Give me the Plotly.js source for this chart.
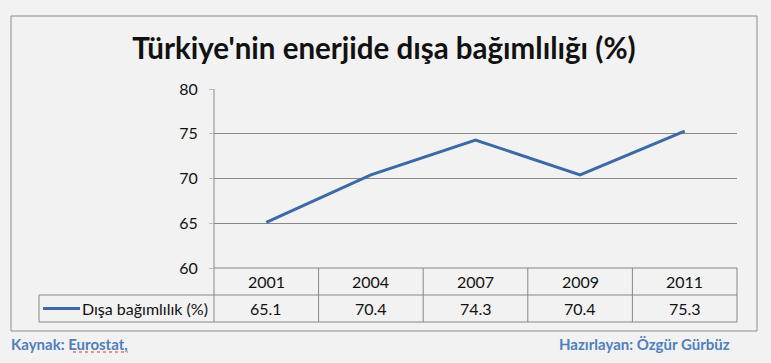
<!DOCTYPE html>
<html>
<head>
<meta charset="utf-8">
<script src="https://cdn.plot.ly/plotly-3.0.1.min.js"></script>
<style>
html,body{margin:0;padding:0;background:#f2f2f2;}
#chart{width:771px;height:363px;}
</style>
</head>
<body>
<div id="chart"></div>
<script>
// ---- data ----
const years = ['2001', '2004', '2007', '2009', '2011'];
const values = [65.1, 70.4, 74.3, 70.4, 75.3];
const seriesName = 'Dışa bağımlılık (%)';
const yTicks = [60, 65, 70, 75, 80];
const titleText = "Türkiye'nin enerjide dışa bağımlılığı (%)";
const sourceText = 'Kaynak: Eurostat,';
const authorText = 'Hazırlayan: Özgür Gürbüz';

// ---- layout geometry (pixels) ----
const W = 771, H = 363;
const L = 214, R = 737, T = 89, B = 268;
const pw = R - L, ph = B - T;
const px = x => (x - L) / pw;
const py = y => (B - y) / ph;

const lineCol = '#3c6aa6';
const gridCol = '#878787';
const font = 'Lato, "Open Sans", sans-serif';

const rowMid1 = 281.5, rowMid2 = 308.5, rowBot1 = 295, rowBot2 = 322;

const shapes = [];
function ln(x0, y0, x1, y1, color, width, dash) {
  shapes.push({type: 'line', xref: 'paper', yref: 'paper',
    x0: px(x0), y0: py(y0), x1: px(x1), y1: py(y1),
    line: {color: color || gridCol, width: width || 1, dash: dash || 'solid'}});
}
// outer frame
shapes.push({type: 'rect', xref: 'paper', yref: 'paper',
  x0: px(11), y0: py(16), x1: px(757), y1: py(331),
  line: {color: '#8c8c8c', width: 1}, fillcolor: 'rgba(0,0,0,0)', layer: 'below'});
// data table grid
ln(L, B, R, B);
ln(39, rowBot1, R, rowBot1);
ln(39, rowBot2, R, rowBot2);
ln(39, rowBot1, 39, rowBot2);
ln(L, T, L, rowBot2);
for (let k = 1; k <= years.length; k++) {
  const xk = L + pw * k / years.length;
  ln(xk, B, xk, rowBot2);
}
// legend key line
ln(43, rowMid2, 80, rowMid2, lineCol, 3);
// spell-check squiggle under Eurostat
ln(73, 352, 128, 352, '#e03030', 1, 'dot');

const cellFont = {family: font, size: 16, color: '#111'};
const annotations = [];
years.forEach((yr, i) => {
  annotations.push({xref: 'x', yref: 'paper', x: i, y: py(rowMid1), text: yr,
    showarrow: false, xanchor: 'center', yanchor: 'middle', font: cellFont});
  annotations.push({xref: 'x', yref: 'paper', x: i, y: py(rowMid2), text: values[i].toFixed(1),
    showarrow: false, xanchor: 'center', yanchor: 'middle', font: cellFont});
});
annotations.push({xref: 'paper', yref: 'paper', x: px(210), y: py(rowMid2), text: seriesName,
  showarrow: false, xanchor: 'right', yanchor: 'middle', font: cellFont});
annotations.push({xref: 'paper', yref: 'paper', x: px(9), y: py(344), text: '<b>' + sourceText + '</b>',
  showarrow: false, xanchor: 'left', yanchor: 'middle',
  font: {family: font, size: 15, color: '#4f7fbd'}});
annotations.push({xref: 'paper', yref: 'paper', x: px(732), y: py(344), text: '<b>' + authorText + '</b>',
  showarrow: false, xanchor: 'right', yanchor: 'middle',
  font: {family: font, size: 15, color: '#4f7fbd'}});

const trace = {
  type: 'scatter', mode: 'lines', x: years, y: values, name: seriesName,
  line: {color: lineCol, width: 3}, hoverinfo: 'x+y'
};

const layout = {
  width: W, height: H,
  margin: {l: L, r: W - R, t: T, b: H - B, pad: 0},
  paper_bgcolor: '#f2f2f2', plot_bgcolor: '#f2f2f2',
  showlegend: false,
  title: {text: '<b>' + titleText + '</b>', xref: 'container', x: 384 / W, xanchor: 'center',
    yref: 'container', y: 1 - 49 / H, yanchor: 'middle',
    font: {family: font, size: 29.5, color: '#111'}},
  xaxis: {type: 'category', range: [-0.5, years.length - 0.5], showticklabels: false,
    showgrid: false, zeroline: false, showline: false, ticks: '', fixedrange: true},
  yaxis: {range: [60, 80], tickvals: yTicks, ticktext: yTicks.map(String),
    showgrid: true, gridcolor: gridCol, gridwidth: 1, zeroline: false, showline: false,
    ticks: 'outside', ticklen: 4, tickcolor: '#bbbbbb', ticklabelstandoff: 8,
    tickfont: {family: font, size: 16, color: '#111'}, fixedrange: true},
  shapes: shapes,
  annotations: annotations
};

Plotly.newPlot('chart', [trace], layout, {displayModeBar: false, staticPlot: true});
</script>
</body>
</html>
